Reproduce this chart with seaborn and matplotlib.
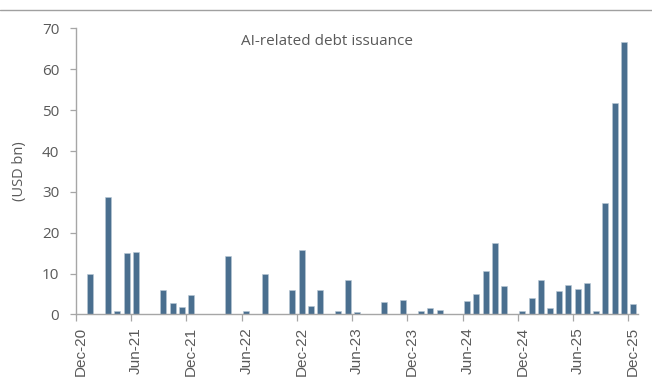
import matplotlib
matplotlib.use("Agg")
import matplotlib.pyplot as plt
import seaborn as sns
import pandas as pd
from matplotlib.ticker import FixedLocator

months = ["Dec-20", "Jan-21", "Feb-21", "Mar-21", "Apr-21", "May-21", "Jun-21", "Jul-21", "Aug-21", "Sep-21",
          "Oct-21", "Nov-21", "Dec-21", "Jan-22", "Feb-22", "Mar-22", "Apr-22", "May-22", "Jun-22", "Jul-22",
          "Aug-22", "Sep-22", "Oct-22", "Nov-22", "Dec-22", "Jan-23", "Feb-23", "Mar-23", "Apr-23", "May-23",
          "Jun-23", "Jul-23", "Aug-23", "Sep-23", "Oct-23", "Nov-23", "Dec-23", "Jan-24", "Feb-24", "Mar-24",
          "Apr-24", "May-24", "Jun-24", "Jul-24", "Aug-24", "Sep-24", "Oct-24", "Nov-24", "Dec-24", "Jan-25",
          "Feb-25", "Mar-25", "Apr-25", "May-25", "Jun-25", "Jul-25", "Aug-25", "Sep-25", "Oct-25", "Nov-25",
          "Dec-25"]
issuance = [0, 10.0, 0, 28.8, 0.8, 15.0, 15.2, 0, 0, 6.0,
            2.8, 1.9, 4.7, 0, 0, 0, 14.3, 0, 0.9, 0,
            10.0, 0, 0, 6.0, 15.7, 2.0, 6.0, 0, 0.9, 8.5,
            0.5, 0, 0, 3.0, 0, 3.4, 0, 0.9, 1.6, 1.0,
            0, 0, 3.3, 4.9, 10.6, 17.6, 7.0, 0, 0.9, 4.0,
            8.4, 1.5, 5.7, 7.1, 6.3, 7.6, 0.9, 27.3, 51.7, 66.8,
            2.5]
tick_labels = ["Dec-20", "Jun-21", "Dec-21", "Jun-22", "Dec-22", "Jun-23", "Dec-23", "Jun-24", "Dec-24", "Jun-25", "Dec-25"]
y_ticks = [0, 10, 20, 30, 40, 50, 60, 70]

sns.set_theme(style="white")
plt.rcParams['font.family'] = ['Open Sans', 'DejaVu Sans']

text_color = "#595959"
axis_color = "#a6a6a6"
bar_color = "#4a6f8f"

df = pd.DataFrame({"month": months, "value": issuance})

fig = plt.figure(figsize=(6.52, 3.92), dpi=100)
ax = fig.add_axes([0.1166, 0.198, 0.8612, 0.7293])

sns.barplot(data=df, x="month", y="value", order=months, color=bar_color,
            width=0.65, saturation=1, edgecolor="#b8c8d6", linewidth=0.4, ax=ax)

ax.set_xlim(-0.5, len(months) - 0.5)
ax.set_ylim(0, 70)
ax.set_yticks(y_ticks)
ax.set_yticklabels([str(v) for v in y_ticks])

label_pos = [months.index(m) for m in tick_labels]
ax.set_xticks(label_pos)
ax.set_xticklabels(tick_labels, rotation=90, family=["Liberation Sans", "DejaVu Sans"])
ax.xaxis.set_minor_locator(FixedLocator([p - 0.5 for p in label_pos]))

ax.tick_params(axis="x", which="major", length=0, pad=9, labelsize=11, labelcolor=text_color)
ax.tick_params(axis="x", which="minor", length=5, width=0.9, color=axis_color, direction="out", bottom=True)
ax.tick_params(axis="y", which="major", length=4, width=0.9, color=axis_color, direction="out", left=True,
               pad=8, labelsize=11, labelcolor=text_color)

for s in ["top", "right"]:
    ax.spines[s].set_visible(False)
for s in ["left", "bottom"]:
    ax.spines[s].set_color(axis_color)
    ax.spines[s].set_linewidth(1.0)

ax.set_xlabel("")
ax.set_ylabel("(USD bn)", fontsize=10.5, color=text_color, labelpad=11)

ax.text(0.447, 0.953, "AI-related debt issuance", transform=ax.transAxes, ha="center", va="center",
        fontsize=11, color=text_color)

fig.add_artist(plt.Line2D([0, 1], [1 - 10 / 392, 1 - 10 / 392], color="#a0a0a0", linewidth=1.0,
                          transform=fig.transFigure))

fig.savefig("out.png", dpi=100)
